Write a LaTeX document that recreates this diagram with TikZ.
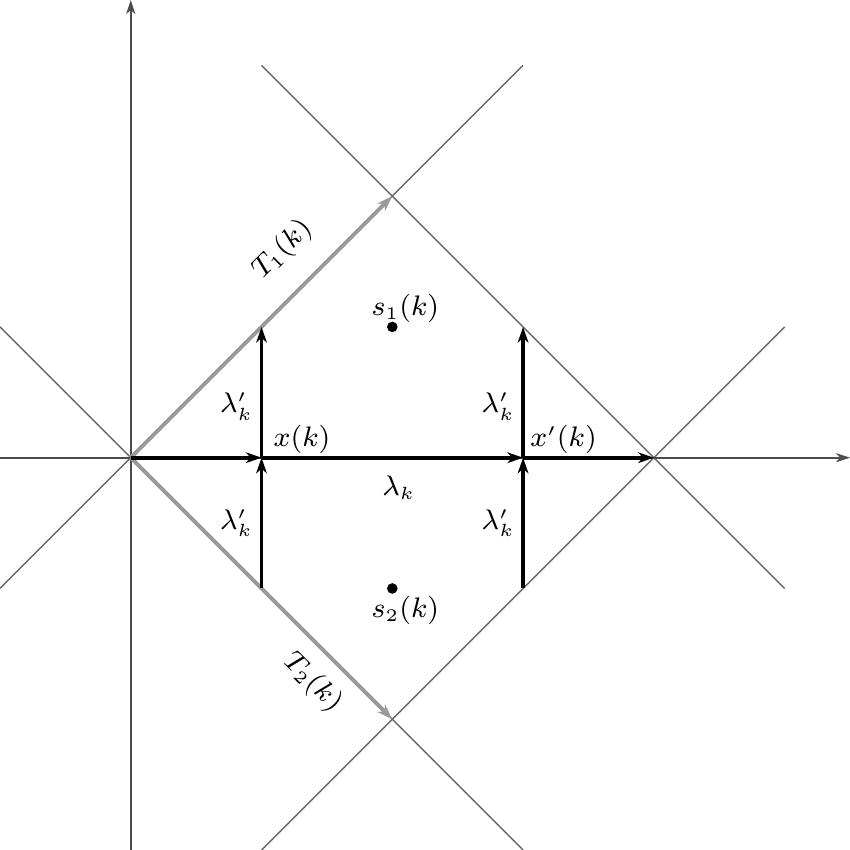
\documentclass[tikz,border=0pt]{standalone}
\usetikzlibrary{arrows.meta}
\begin{document}
\begin{tikzpicture}[x=1.3cm,y=1.3cm,
  thinline/.style={draw=black!60,line width=0.4pt},
  axis/.style={draw=black!70,line width=0.5pt,-{Stealth[length=4pt,width=2.6pt,inset=1.2pt]}},
  bold/.style={draw=black,line width=1.1pt,-{Stealth[length=4.4pt,width=3pt,inset=1.3pt]}},
  grayarrow/.style={draw=black!40,line width=1.1pt,-{Stealth[length=4.4pt,width=3pt,inset=1.3pt]}},
  lbl/.style={inner sep=1pt,font=\fontsize{7.6}{9}\selectfont}]
\useasboundingbox (-1,-3) rectangle (5.5,3.5);
% coordinates
\coordinate (O) at (0,0);
\coordinate (X) at (1,0);
\coordinate (Xp) at (3,0);
\coordinate (E) at (4,0);
\coordinate (Top) at (2,2);
\coordinate (Bot) at (2,-2);
\coordinate (A1) at (1,1);
\coordinate (A2) at (1,-1);
\coordinate (B1) at (3,1);
\coordinate (B2) at (3,-1);
\coordinate (L1a) at (-1,-1); \coordinate (L1b) at (3,3);
\coordinate (L2a) at (-1,1); \coordinate (L2b) at (3,-3);
\coordinate (L3a) at (1,3); \coordinate (L3b) at (5,-1);
\coordinate (L4a) at (1,-3); \coordinate (L4b) at (5,1);
\coordinate (HxA) at (-1,0); \coordinate (HxB) at (5.5,0);
\coordinate (VyA) at (0,-3); \coordinate (VyB) at (0,3.5);
% thin lines
\draw[thinline] (L1a) -- (L1b);
\draw[thinline] (L2a) -- (L2b);
\draw[thinline] (L3a) -- (L3b);
\draw[thinline] (L4a) -- (L4b);
% axes
\draw[axis] (HxA) -- (HxB);
\draw[axis] (VyA) -- (VyB);
% gray arrows
\draw[grayarrow] (O) -- (Top);
\draw[grayarrow] (O) -- (Bot);
% black arrows
\draw[bold] (O) -- (X);
\draw[bold] (X) -- (Xp);
\draw[bold] (Xp) -- (E);
\draw[bold] (A2) -- (X);
\draw[bold] (X) -- (A1);
\draw[bold] (B2) -- (Xp);
\draw[bold] (Xp) -- (B1);
% dots
\fill (2,1) circle (1.5pt) coordinate (S1);
\fill (2,-1) circle (1.5pt) coordinate (S2);
% labels
\node[lbl] (ls1) at (2.1,1.14) {$s_1(k)$};
\node[lbl] (ls2) at (2.1,-1.17) {$s_2(k)$};
\node[lbl] (lx) at (1.31,0.14) {$x(k)$};
\node[lbl] (lxp) at (3.31,0.14) {$x'(k)$};
\node[lbl] (llam) at (2.05,-0.23) {$\lambda_k$};
\node[lbl] (la1) at (0.81,0.39) {$\lambda'_k$};
\node[lbl] (la2) at (0.81,-0.5) {$\lambda'_k$};
\node[lbl] (lb1) at (2.81,0.39) {$\lambda'_k$};
\node[lbl] (lb2) at (2.81,-0.5) {$\lambda'_k$};
\node[lbl,rotate=45] (lt1) at (1.16,1.59) {$T_1(k)$};
\node[lbl,rotate=-45] (lt2) at (1.39,-1.72) {$T_2(k)$};
\end{tikzpicture}
\end{document}
